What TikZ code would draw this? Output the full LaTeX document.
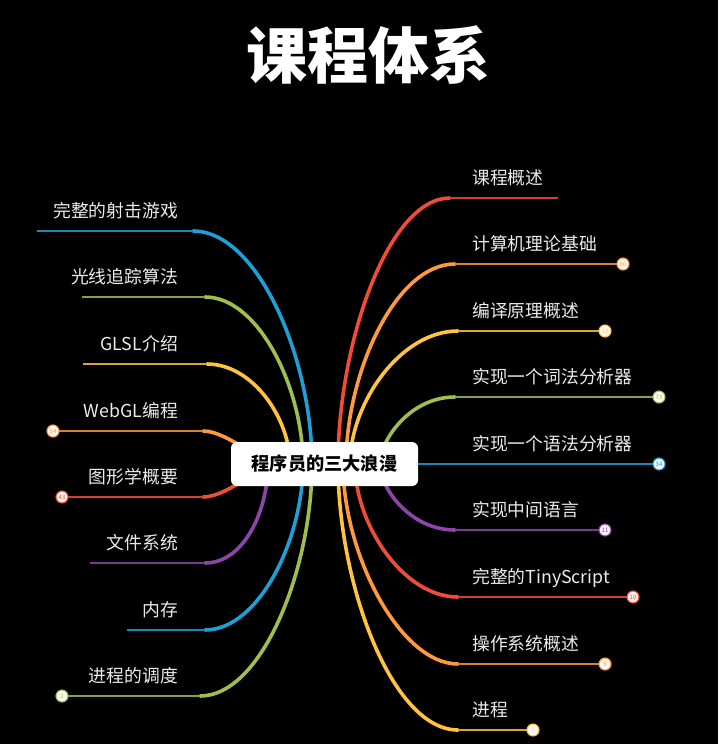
\documentclass[tikz,border=0pt]{standalone}
\usepackage{fontspec}
\setmainfont{Noto Sans CJK SC}
\begin{document}
\begin{tikzpicture}[x=1pt,y=-1pt,
  curve/.style={line width=3.6pt,line cap=round},
  uline/.style={line width=1.8pt},
  lbl/.style={text=white!92!black,font=\fontsize{17.8}{17.8}\selectfont,inner sep=0pt},
  rlbl/.style={lbl,anchor=base west},
  llbl/.style={lbl,anchor=base east},
  endc/.style={circle,draw=#1,fill=#1!8!white,line width=1.1pt,minimum size=12pt,inner sep=0pt,text=#1,font=\fontsize{6}{6}\selectfont},
  centerbox/.style={rounded corners=6pt,fill=white,minimum width=187pt,minimum height=44pt,font=\fontsize{18.2}{18.2}\selectfont\bfseries,text=black}
]
\definecolor{cred}{RGB}{241,76,56}
\definecolor{corange}{RGB}{255,153,64}
\definecolor{cyellow}{RGB}{255,195,65}
\definecolor{cgreen}{RGB}{160,190,80}
\definecolor{cblue}{RGB}{30,160,215}
\definecolor{cpurple}{RGB}{140,70,170}
\fill[black] (0,0) rectangle (718,744);
\useasboundingbox (0,0) rectangle (718,744);

\node[text=white,font=\fontsize{61}{61}\selectfont\bfseries] (title) at (368,55) {课程体系};

% start / end coordinates
\coordinate (sR1) at (338,464); \coordinate (eR1) at (450,198); \coordinate (fR1) at (558,198);
\coordinate (sR2) at (346,464); \coordinate (eR2) at (455,264);
\coordinate (sR3) at (350,464); \coordinate (eR3) at (458,331);
\coordinate (sR4) at (380,464); \coordinate (eR4) at (455,397);
\coordinate (sR5) at (330,464);
\coordinate (sR6) at (380,464); \coordinate (eR6) at (455,530);
\coordinate (sR7) at (355,464); \coordinate (eR7) at (458,597);
\coordinate (sR8) at (343,464); \coordinate (eR8) at (458,664);
\coordinate (sR9) at (338,464); \coordinate (eR9) at (458,730);

\coordinate (sL1) at (312,464); \coordinate (eL1) at (193,231); \coordinate (fL1) at (37,231);
\coordinate (sL2) at (303,464); \coordinate (eL2) at (205,297); \coordinate (fL2) at (82,297);
\coordinate (sL3) at (290,464); \coordinate (eL3) at (207,364); \coordinate (fL3) at (83,364);
\coordinate (sL4) at (280,464); \coordinate (eL4) at (203,431);
\coordinate (sL5) at (280,464); \coordinate (eL5) at (203,497);
\coordinate (sL6) at (268,464); \coordinate (eL6) at (205,563); \coordinate (fL6) at (90,563);
\coordinate (sL7) at (303,464); \coordinate (eL7) at (205,630); \coordinate (fL7) at (127,630);
\coordinate (sL8) at (312,464); \coordinate (eL8) at (200,696);

% end circle positions
\coordinate (cR2) at (623,264);
\coordinate (cR3) at (605,331);
\coordinate (cR4) at (659,397);
\coordinate (cR5) at (659,464);
\coordinate (cR6) at (605,530);
\coordinate (cR7) at (633,597);
\coordinate (cR8) at (605,664);
\coordinate (cR9) at (533,730);
\coordinate (cL4) at (53,431);
\coordinate (cL5) at (62,497);
\coordinate (cL8) at (62,696);

% right branches
\draw[curve,cred] (sR1) .. controls +(0,-120) and +(-62,0) .. (eR1);
\draw[uline,cred!85!black] (eR1) -- (fR1);
\draw[curve,corange] (sR2) .. controls +(0,-90) and +(-60,0) .. (eR2);
\draw[uline,corange!85!black] (eR2) -- (cR2);
\draw[curve,cyellow] (sR3) .. controls +(0,-60) and +(-58,0) .. (eR3);
\draw[uline,cyellow!85!black] (eR3) -- (cR3);
\draw[curve,cgreen] (sR4) .. controls +(0,-24) and +(-45,0) .. (eR4);
\draw[uline,cgreen!85!black] (eR4) -- (cR4);
\draw[uline,cblue!85!black] (sR5) -- (cR5);
\draw[curve,cpurple] (sR6) .. controls +(0,24) and +(-45,0) .. (eR6);
\draw[uline,cpurple!85!black] (eR6) -- (cR6);
\draw[curve,cred] (sR7) .. controls +(0,60) and +(-55,0) .. (eR7);
\draw[uline,cred!85!black] (eR7) -- (cR7);
\draw[curve,corange] (sR8) .. controls +(0,90) and +(-58,0) .. (eR8);
\draw[uline,corange!85!black] (eR8) -- (cR8);
\draw[curve,cyellow] (sR9) .. controls +(0,120) and +(-66,0) .. (eR9);
\draw[uline,cyellow!85!black] (eR9) -- (cR9);

% left branches
\draw[curve,cblue] (sL1) .. controls +(0,-105) and +(65,0) .. (eL1);
\draw[uline,cblue!85!black] (eL1) -- (fL1);
\draw[curve,cgreen] (sL2) .. controls +(0,-75) and +(54,0) .. (eL2);
\draw[uline,cgreen!85!black] (eL2) -- (fL2);
\draw[curve,cyellow] (sL3) .. controls +(0,-45) and +(46,0) .. (eL3);
\draw[uline,cyellow!85!black] (eL3) -- (fL3);
\draw[curve,corange] (sL4) .. controls +(-20,0) and +(25,0) .. (eL4);
\draw[uline,corange!85!black] (eL4) -- (cL4);
\draw[curve,cred] (sL5) .. controls +(-20,0) and +(25,0) .. (eL5);
\draw[uline,cred!85!black] (eL5) -- (cL5);
\draw[curve,cpurple] (sL6) .. controls +(0,45) and +(40,0) .. (eL6);
\draw[uline,cpurple!85!black] (eL6) -- (fL6);
\draw[curve,cblue] (sL7) .. controls +(0,75) and +(54,0) .. (eL7);
\draw[uline,cblue!85!black] (eL7) -- (fL7);
\draw[curve,cgreen] (sL8) .. controls +(0,105) and +(62,0) .. (eL8);
\draw[uline,cgreen!85!black] (eL8) -- (cL8);

% end circles on top
\node[endc=corange] (nR2) at (cR2) {60};
\node[endc=cyellow] (nR3) at (cR3) {13};
\node[endc=cgreen] (nR4) at (cR4) {73};
\node[endc=cblue] (nR5) at (cR5) {34};
\node[endc=cpurple] (nR6) at (cR6) {11};
\node[endc=cred] (nR7) at (cR7) {10};
\node[endc=corange] (nR8) at (cR8) {5};
\node[endc=cyellow] (nR9) at (cR9) {7};
\node[endc=corange] (nL4) at (cL4) {54};
\node[endc=cred] (nL5) at (cL5) {43};
\node[endc=cgreen] (nL8) at (cL8) {2};

% center node
\node[centerbox] (center) at (324.5,464) {程序员的三大浪漫};

% labels
\node[rlbl] (tR1) at (472,184) {课程概述};
\node[rlbl] (tR2) at (472,250) {计算机理论基础};
\node[rlbl] (tR3) at (472,317) {编译原理概述};
\node[rlbl] (tR4) at (472,383) {实现一个词法分析器};
\node[rlbl] (tR5) at (472,450) {实现一个语法分析器};
\node[rlbl] (tR6) at (472,516) {实现中间语言};
\node[rlbl] (tR7) at (472,583) {完整的TinyScript};
\node[rlbl] (tR8) at (472,650) {操作系统概述};
\node[rlbl] (tR9) at (472,716) {进程};

\node[llbl] (tL1) at (178,217) {完整的射击游戏};
\node[llbl] (tL2) at (178,283) {光线追踪算法};
\node[llbl] (tL3) at (178,350) {GLSL介绍};
\node[llbl] (tL4) at (178,417) {WebGL编程};
\node[llbl] (tL5) at (178,483) {图形学概要};
\node[llbl] (tL6) at (178,549) {文件系统};
\node[llbl] (tL7) at (178,616) {内存};
\node[llbl] (tL8) at (178,682) {进程的调度};
\end{tikzpicture}
\end{document}
